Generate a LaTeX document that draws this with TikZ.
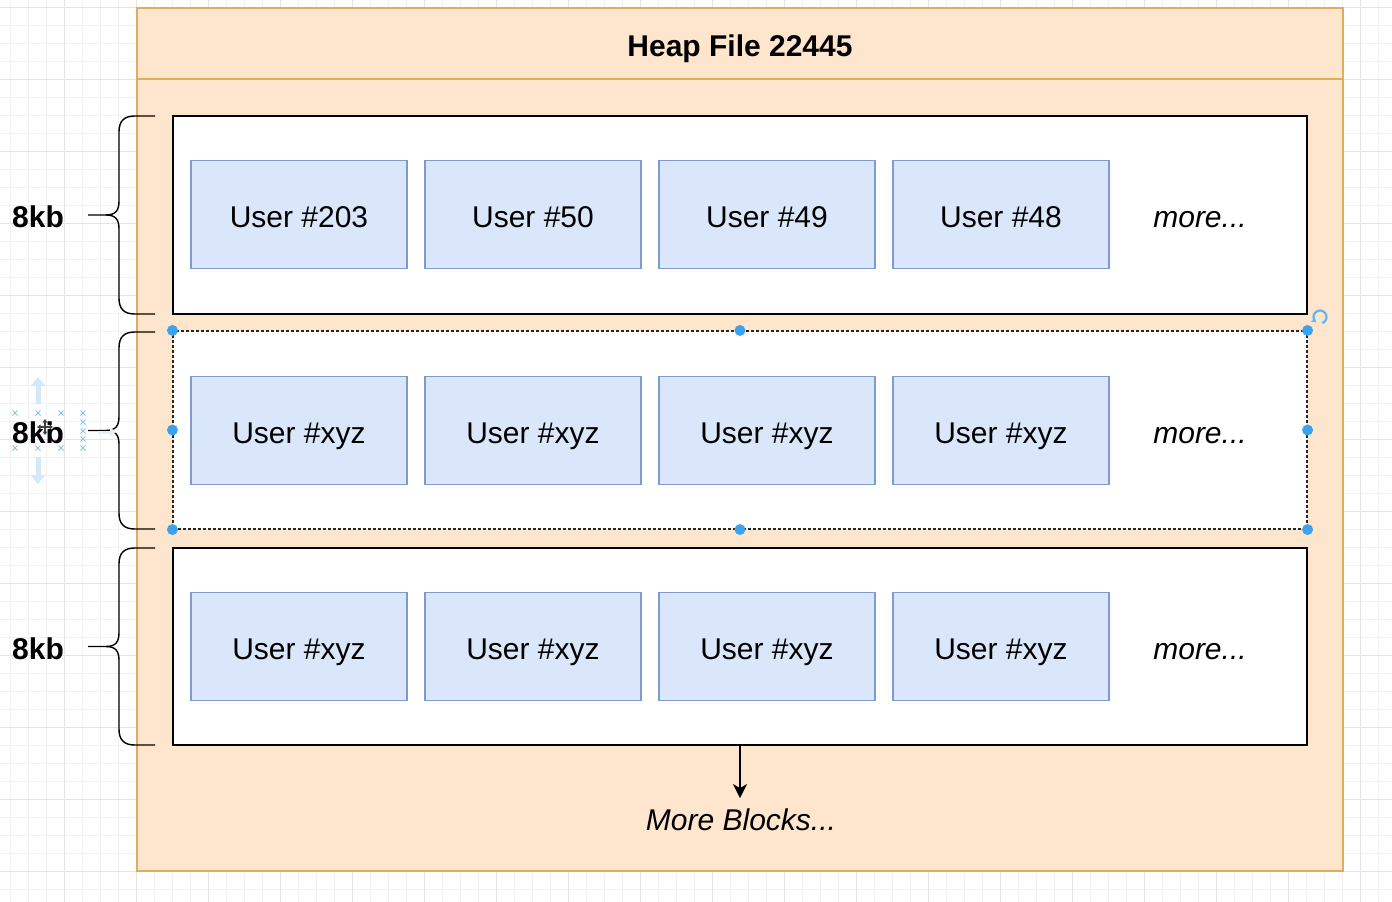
\documentclass[tikz,border=0pt]{standalone}
\usepackage{fontspec}
\setmainfont{Liberation Sans}
\usetikzlibrary{arrows.meta}
\definecolor{gridminor}{HTML}{F2F2F2}
\definecolor{gridmajor}{HTML}{E4E4E4}
\definecolor{heapfill}{HTML}{FDE6CD}
\definecolor{heapline}{HTML}{DDAE5E}
\definecolor{recfill}{HTML}{DAE7FB}
\definecolor{recline}{HTML}{7D9BCB}
\definecolor{handle}{HTML}{3DA2EE}
\definecolor{ghost}{HTML}{D3E8F9}
\definecolor{xmark}{HTML}{8DC3EE}
\begin{document}
\begin{tikzpicture}[x=1pt,y=-1pt,
  big/.style={font=\fontsize{30}{36}\selectfont, text height=21.5pt, text depth=0pt, inner sep=0pt},
  heap/.style={draw=heapline, fill=heapfill, line width=1.4pt, minimum width=1206pt, inner sep=0pt},
  blockbox/.style={draw=black, fill=white, line width=1.3pt, minimum width=1134pt, minimum height=198pt, inner sep=0pt},
  userbox/.style={big, text height=25.5pt, draw=recline, fill=recfill, line width=1.4pt, minimum width=216pt, minimum height=108pt},
  moretext/.style={big, font=\fontsize{30}{36}\selectfont\itshape},
  sizetext/.style={big, font=\fontsize{30}{36}\selectfont\bfseries},
  titletext/.style={big, font=\fontsize{30}{36}\selectfont\bfseries, text height=26.5pt},
  brace/.style={draw=black, line width=1.4pt},
  handledot/.style={circle, fill=handle, minimum size=11pt, inner sep=0pt},
  xm/.style={draw=xmark, line width=1pt},
]
\useasboundingbox (0,0) rectangle (1392,902);
\fill[white] (0,0) rectangle (1392,902);

% background grid
\foreach \i in {0,...,76} \draw[gridminor, line width=0.8pt] ({10.7+18*\i},0) -- ({10.7+18*\i},902);
\foreach \j in {0,...,49} \draw[gridminor, line width=0.8pt] (0,{7.7+18*\j}) -- (1392,{7.7+18*\j});
\foreach \i in {0,...,19} \draw[gridmajor, line width=0.8pt] ({64.7+72*\i},0) -- ({64.7+72*\i},902);
\foreach \j in {0,...,12} \draw[gridmajor, line width=0.8pt] (0,{7.7+72*\j}) -- (1392,{7.7+72*\j});

% heap file container
\node[heap, minimum height=792pt] (body) at (740,475) {};
\node[heap, titletext, minimum height=71pt] (title) at (740,43.5) {Heap File 22445};

% blocks
\node[blockbox] (blk1) at (740,215) {};
\node[blockbox, draw=black!85, dash pattern=on 3pt off 2pt, line width=1.1pt] (blk2) at (740,430) {};
\node[blockbox, minimum height=197pt] (blk3) at (740,646.5) {};

% records
\node[userbox] (r11) at (299,214.5) {User \#203};
\node[userbox] (r12) at (533,214.5) {User \#50};
\node[userbox] (r13) at (767,214.5) {User \#49};
\node[userbox] (r14) at (1001,214.5) {User \#48};
\node[moretext] (m1) at (1200,217) {more...};

\node[userbox] (r21) at (299,430.5) {User \#xyz};
\node[userbox] (r22) at (533,430.5) {User \#xyz};
\node[userbox] (r23) at (767,430.5) {User \#xyz};
\node[userbox] (r24) at (1001,430.5) {User \#xyz};
\node[moretext] (m2) at (1200,433) {more...};

\node[userbox] (r31) at (299,646.5) {User \#xyz};
\node[userbox] (r32) at (533,646.5) {User \#xyz};
\node[userbox] (r33) at (767,646.5) {User \#xyz};
\node[userbox] (r34) at (1001,646.5) {User \#xyz};
\node[moretext] (m3) at (1200,649) {more...};

% continuation arrow
\node[moretext] (mb) at (741,820) {More Blocks...};
\draw[line width=1.3pt, -{Stealth[length=14pt,width=14pt,inset=4pt]}, shorten >=11pt] (blk3.south) -- (blk3.south |- mb.north);

% braces and size labels
\foreach \t/\b in {116/314, 332/529, 548/745} {
  \pgfmathsetmacro{\m}{(\t+\b)/2}
  \draw[brace] (155,\t) -- (135,\t) .. controls (124,\t) and (119,\t+5) .. (119,\t+16)
     -- (119,\m-14) .. controls (119,\m-5) and (116,\m) .. (106,\m) -- (88,\m);
  \draw[brace] (106,\m) .. controls (116,\m) and (119,\m+5) .. (119,\m+14)
     -- (119,\b-16) .. controls (119,\b-5) and (124,\b) .. (135,\b) -- (155,\b);
}
\node[sizetext] (s1) at (38,217) {8kb};
\node[sizetext] (s2) at (38,433) {8kb};
\node[sizetext] (s3) at (38,649) {8kb};

% selection handles on the middle block
\node[handledot] (h1) at (blk2.north west) {};
\node[handledot] (h2) at (blk2.north) {};
\node[handledot] (h3) at (blk2.north east) {};
\node[handledot] (h4) at (blk2.west) {};
\node[handledot] (h5) at (blk2.east) {};
\node[handledot] (h6) at (blk2.south west) {};
\node[handledot] (h7) at (blk2.south) {};
\node[handledot] (h8) at (blk2.south east) {};
\draw[handle!80, line width=2.2pt, -{Stealth[length=4.5pt,width=6.5pt]}] (1320,317) ++(70:6.5) arc[start angle=70, end angle=-230, radius=6.5];

% move hints around the selected label
\draw[ghost, line width=5pt, -{Triangle[length=9pt,width=14pt]}] (38,404) -- (38,377);
\draw[ghost, line width=5pt, -{Triangle[length=9pt,width=14pt]}] (38,457) -- (38,484);
\draw[ghost!60, line width=3pt, -{Triangle[length=6pt,width=9pt]}] (98,432) -- (116,432);
\foreach \p in {(15,413),(38,413),(61,413),(83,413),(83,422),(83,431),(83,439),(83,448),(15,448),(38,448),(61,448)} {
  \draw[xm] \p ++(-2.5,-2.5) -- ++(5,5);
  \draw[xm] \p ++(-2.5,2.5) -- ++(5,-5);
}
\draw[white, line width=3.5pt] (38,427) -- (52,427) (45,420) -- (45,434);
\draw[black!75, line width=1.2pt] (38,427) -- (52,427) (45,420) -- (45,434);
\fill[black!75] (37,427) -- (40.5,424.5) -- (40.5,429.5) -- cycle (53,427) -- (49.5,424.5) -- (49.5,429.5) -- cycle
  (45,419) -- (42.5,422.5) -- (47.5,422.5) -- cycle (45,435) -- (42.5,431.5) -- (47.5,431.5) -- cycle;
\end{tikzpicture}
\end{document}
